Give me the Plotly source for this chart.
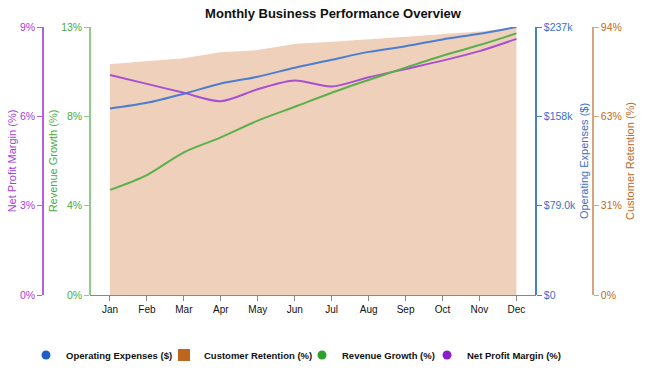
import plotly.graph_objects as go

months = ["Jan", "Feb", "Mar", "Apr", "May", "Jun", "Jul", "Aug", "Sep", "Oct", "Nov", "Dec"]
operating_expenses = [165000, 170000, 178000, 187000, 193000, 201000, 208000, 215000, 220000, 226000, 231000, 237000]
customer_retention = [81.0, 82.0, 83.0, 85.1, 85.9, 88.0, 88.8, 89.7, 90.6, 91.5, 92.4, 93.9]
revenue_growth = [4.94, 5.64, 6.71, 7.41, 8.20, 8.85, 9.51, 10.11, 10.69, 11.25, 11.75, 12.3]
net_profit_margin = [7.39, 7.09, 6.79, 6.51, 6.91, 7.20, 7.00, 7.31, 7.59, 7.87, 8.19, 8.6]

npm_ticks = [0, 3, 6, 9]
npm_labels = ["0%", "3%", "6%", "9%"]
rg_ticks = [0, 4.2, 8.4, 12.6]
rg_labels = ["0%", "4%", "8%", "13%"]
opex_ticks = [0, 79000, 158000, 237000]
opex_labels = ["$0", "$79.0k", "$158k", "$237k"]
cr_ticks = [0, 31.33, 62.67, 94]
cr_labels = ["0%", "31%", "63%", "94%"]

W, H = 650, 373
FONT = "Arial, Liberation Sans, sans-serif"

BLUE_L, BLUE_D = "#4a7fcf", "#1f5fc8"
GREEN_L, GREEN_D = "#5cb04c", "#2ea02c"
PURP_L, PURP_D = "#a84fd2", "#8a1ecc"
ORANGE_L, ORANGE_D = "#d9a37a", "#c0651e"
ORANGE_T = "#c06a25"

fig = go.Figure()

# area on main axis so it is drawn beneath the lines
fig.add_trace(go.Scatter(x=months, y=customer_retention, yaxis="y", mode="lines",
                         line=dict(width=0, shape="spline", smoothing=0.3),
                         fill="tozeroy", fillcolor="rgba(205,120,60,0.35)",
                         showlegend=False, name="Customer Retention (%)"))
fig.add_trace(go.Scatter(x=months, y=net_profit_margin, yaxis="y2", mode="lines",
                         line=dict(color=PURP_L, width=2, shape="spline", smoothing=0.8),
                         showlegend=False, name="Net Profit Margin (%)"))
fig.add_trace(go.Scatter(x=months, y=revenue_growth, yaxis="y3", mode="lines",
                         line=dict(color=GREEN_L, width=2, shape="spline", smoothing=0.8),
                         showlegend=False, name="Revenue Growth (%)"))
fig.add_trace(go.Scatter(x=months, y=operating_expenses, yaxis="y4", mode="lines",
                         line=dict(color=BLUE_L, width=2, shape="spline", smoothing=0.8),
                         showlegend=False, name="Operating Expenses ($)"))

# legend entries (one legend each, so each entry can sit where the reference has it)
fig.add_trace(go.Scatter(x=[None], y=[None], yaxis="y4", mode="markers", name="Operating Expenses ($)",
                         marker=dict(size=9, color=BLUE_D), legend="legend"))
fig.add_trace(go.Bar(x=[None], y=[None], yaxis="y", name="Customer Retention (%)",
                     marker=dict(color=ORANGE_D, line=dict(width=0)), legend="legend2"))
fig.add_trace(go.Scatter(x=[None], y=[None], yaxis="y3", mode="markers", name="Revenue Growth (%)",
                         marker=dict(size=9, color=GREEN_D), legend="legend3"))
fig.add_trace(go.Scatter(x=[None], y=[None], yaxis="y2", mode="markers", name="Net Profit Margin (%)",
                         marker=dict(size=9, color=PURP_D), legend="legend4"))

x0, x1 = 90 / W, 536 / W
ydom = [(H - 295) / H, (H - 27) / H]

def yax(color_line, color_text, title, ticks, labels, rng, side, pos, standoff, overlay=True):
    d = dict(
        domain=ydom, range=rng, side=side, anchor="free", position=pos,
        showline=True, linecolor=color_line, linewidth=1.5,
        ticks="outside", ticklen=5, tickcolor=color_line,
        tickvals=ticks, ticktext=labels,
        tickfont=dict(color=color_text, size=10.5, family=FONT),
        title=dict(text=title, font=dict(color=color_text, size=11, family=FONT), standoff=standoff),
        showgrid=False, zeroline=False, fixedrange=True,
    )
    if overlay:
        d["overlaying"] = "y"
    return d

def leg(cx):
    return dict(orientation="h", x=(cx - 20) / W, xanchor="left", y=(H - 355) / H, yanchor="middle",
                font=dict(size=9.5, color="#111", family=FONT, weight="bold"), itemwidth=30,
                bgcolor="rgba(0,0,0,0)", borderwidth=0)

fig.update_layout(
    width=W, height=H,
    margin=dict(l=0, r=0, t=0, b=0, autoexpand=False),
    paper_bgcolor="white", plot_bgcolor="white",
    font=dict(family=FONT, size=11, color="#222"),
    title=dict(text="<b>Monthly Business Performance Overview</b>", x=333 / W, xanchor="center",
               y=1 - 13 / H, yanchor="middle", yref="container",
               font=dict(size=13, color="#111", family=FONT)),
    xaxis=dict(domain=[x0, x1], type="category", categoryorder="array", categoryarray=months,
               range=[-0.54, 11.53], showline=True, linecolor="#888", linewidth=1,
               ticks="outside", ticklen=5, tickcolor="#888",
               tickfont=dict(size=10, color="#111", family=FONT),
               showgrid=False, zeroline=False, fixedrange=True),
    yaxis=yax(ORANGE_L, ORANGE_T, "Customer Retention (%)", cr_ticks, cr_labels, [0, 94], "right", 593 / W, 4, overlay=False),
    yaxis2=yax("#b45ee0", "#a440d8", "Net Profit Margin (%)", npm_ticks, npm_labels, [0, 9], "left", 43 / W, 0),
    yaxis3=yax("#8fcb8a", "#4aab3e", "Revenue Growth (%)", rg_ticks, rg_labels, [0, 12.6], "left", 90 / W, 0),
    yaxis4=yax(BLUE_L, "#3a70c8", "Operating Expenses ($)", opex_ticks, opex_labels, [0, 237000], "right", 536 / W, 4),
    legend=leg(46),
    legend2=leg(184),
    legend3=leg(322),
    legend4=leg(447),
    showlegend=True,
    barmode="overlay",
)

fig.write_html("out.html", config={"displayModeBar": False},
               post_script="document.body.style.margin='0px';")
